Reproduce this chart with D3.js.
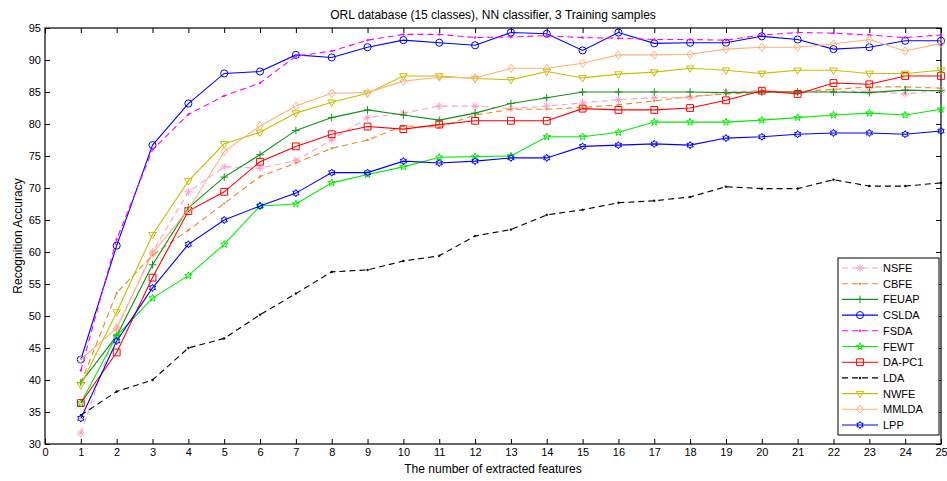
<!DOCTYPE html>
<html>
<head>
<meta charset="utf-8">
<script src="https://cdn.jsdelivr.net/npm/d3@7"></script>
<style>
  body { margin: 0; background: #fff; }
  text { font-family: "Liberation Sans", Arial, sans-serif; }
</style>
</head>
<body>
<div id="chart"></div>
<script>
// Number of extracted features (x)
const features = d3.range(1, 26);

// Recognition accuracy per method
const nsfe  = [31.7, 48.0, 60.0, 69.4, 73.3, 73.1, 74.3, 77.5, 81.0, 81.7, 82.8, 82.8, 82.4, 82.8, 83.3, 83.8, 84.1, 84.1, 85.0, 85.2, 85.0, 85.1, 85.1, 84.7, 85.3];
const cbfe  = [39.5, 53.6, 59.5, 63.4, 67.6, 71.8, 73.9, 76.2, 77.5, 79.7, 79.5, 81.4, 82.3, 82.3, 82.6, 83.0, 83.6, 84.3, 84.7, 84.9, 85.1, 85.4, 85.8, 85.8, 85.6];
const feuap = [39.6, 46.9, 58.0, 66.9, 71.7, 75.2, 79.0, 81.0, 82.2, 81.4, 80.6, 81.7, 83.2, 84.1, 85.0, 85.0, 85.0, 85.0, 84.9, 85.0, 85.0, 85.0, 84.9, 85.3, 85.2];
const cslda = [43.2, 61.0, 76.7, 83.2, 87.9, 88.2, 90.8, 90.4, 92.0, 93.1, 92.7, 92.3, 94.3, 94.1, 91.5, 94.3, 92.6, 92.7, 92.7, 93.7, 93.2, 91.7, 92.0, 93.0, 93.0];
const fsda  = [41.5, 62.0, 76.0, 81.5, 84.4, 86.4, 90.6, 91.4, 93.1, 94.0, 94.0, 93.5, 93.6, 93.8, 93.5, 93.4, 93.2, 93.2, 93.1, 93.9, 94.3, 94.2, 93.9, 93.5, 93.9];
const fewt  = [36.4, 46.9, 52.8, 56.3, 61.2, 67.2, 67.5, 70.8, 72.1, 73.3, 74.8, 74.9, 75.0, 78.0, 78.0, 78.7, 80.3, 80.3, 80.3, 80.6, 81.0, 81.4, 81.7, 81.4, 82.3];
const dapc1 = [36.4, 44.3, 56.0, 66.4, 69.4, 74.1, 76.5, 78.4, 79.6, 79.2, 79.9, 80.5, 80.5, 80.5, 82.4, 82.2, 82.2, 82.5, 83.7, 85.2, 84.7, 86.4, 86.2, 87.5, 87.5];
const lda   = [34.5, 38.2, 40.0, 45.0, 46.5, 50.2, 53.5, 56.9, 57.2, 58.6, 59.4, 62.5, 63.5, 65.8, 66.6, 67.7, 68.0, 68.6, 70.2, 69.9, 69.9, 71.3, 70.3, 70.3, 70.8];
const nwfe  = [39.2, 50.6, 62.7, 71.1, 76.9, 78.7, 81.7, 83.4, 84.8, 87.5, 87.5, 87.1, 86.9, 88.2, 87.2, 87.8, 88.1, 88.7, 88.4, 87.9, 88.4, 88.4, 87.9, 87.9, 88.4];
const mmlda = [43.2, 48.1, 59.8, 66.6, 75.7, 79.7, 82.8, 84.8, 84.9, 86.7, 87.3, 87.2, 88.7, 88.7, 89.5, 90.8, 90.8, 90.9, 91.7, 92.0, 92.0, 92.5, 93.2, 91.4, 92.6];
const lpp   = [34.0, 46.1, 54.4, 61.2, 65.0, 67.2, 69.2, 72.4, 72.4, 74.2, 73.9, 74.2, 74.7, 74.7, 76.5, 76.7, 76.9, 76.7, 77.8, 78.0, 78.4, 78.6, 78.6, 78.4, 78.9];

// Axis ticks
const xTicks = d3.range(0, 26);
const yTicks = d3.range(30, 96, 5);

// Series styling (drawn in legend order)
const series = [
  { name: 'NSFE',   values: nsfe,  color: '#ff9ec9', dash: '6,4', marker: 'asterisk' },
  { name: 'CBFE',   values: cbfe,  color: '#e8892a', dash: '6,4', marker: 'dot' },
  { name: 'FEUAP',  values: feuap, color: '#12901a', dash: null,  marker: 'plus' },
  { name: 'CSLDA',  values: cslda, color: '#0000ff', dash: null,  marker: 'circle' },
  { name: 'FSDA',   values: fsda,  color: '#ff00ff', dash: '6,4', marker: 'dot' },
  { name: 'FEWT',   values: fewt,  color: '#00ee00', dash: null,  marker: 'pentagram' },
  { name: 'DA-PC1', values: dapc1, color: '#ff0000', dash: null,  marker: 'square' },
  { name: 'LDA',    values: lda,   color: '#000000', dash: '6,4', marker: 'dot' },
  { name: 'NWFE',   values: nwfe,  color: '#c4c000', dash: null,  marker: 'triangleDown' },
  { name: 'MMLDA',  values: mmlda, color: '#ffb27a', dash: null,  marker: 'diamond' },
  { name: 'LPP',    values: lpp,   color: '#0000ff', dash: null,  marker: 'hexagram' }
];

// Chart dimensions and margins
const totalW = 947, totalH = 481;
const margin = { top: 28, right: 6, bottom: 37, left: 45 };
const width = totalW - margin.left - margin.right;
const height = totalH - margin.top - margin.bottom;

// Star path helper (pentagram / hexagram)
function starPath(points, outer, inner) {
  const pts = [];
  for (let i = 0; i < points * 2; i++) {
    const r = i % 2 === 0 ? outer : inner;
    const a = -Math.PI / 2 + i * Math.PI / points;
    pts.push([r * Math.cos(a), r * Math.sin(a)]);
  }
  return 'M' + pts.map(p => p[0].toFixed(2) + ',' + p[1].toFixed(2)).join('L') + 'Z';
}

const markerPaths = {
  circle: d3.symbol(d3.symbolCircle, 40)(),
  square: 'M-3.4,-3.4H3.4V3.4H-3.4Z',
  triangleDown: 'M-3.8,-2.3H3.8L0,4.1Z',
  diamond: 'M0,-4.2L3.2,0L0,4.2L-3.2,0Z',
  plus: 'M-3.8,0H3.8M0,-3.8V3.8',
  asterisk: 'M-3.8,0H3.8M0,-3.8V3.8M-2.7,-2.7L2.7,2.7M-2.7,2.7L2.7,-2.7',
  pentagram: starPath(5, 3.8, 1.6),
  hexagram: starPath(6, 3.6, 2.1),
  dot: d3.symbol(d3.symbolCircle, 3)()
};

function drawMarker(g, s, cx, cy) {
  g.append('path')
    .attr('transform', `translate(${cx},${cy})`)
    .attr('d', markerPaths[s.marker])
    .attr('fill', s.marker === 'dot' ? s.color : 'none')
    .attr('stroke', s.color)
    .attr('stroke-width', s.marker === 'dot' ? 0.5 : 1);
}

const svg = d3.select('#chart')
  .append('svg')
  .attr('width', totalW)
  .attr('height', totalH);

const g = svg.append('g')
  .attr('transform', `translate(${margin.left},${margin.top})`);

// Scales
const x = d3.scaleLinear().domain([0, 25]).range([0, width]);
const y = d3.scaleLinear().domain([30, 95]).range([height, 0]);

// Axes (MATLAB style inward ticks on all four sides)
g.append('g')
  .attr('transform', `translate(0,${height})`)
  .call(d3.axisBottom(x).tickValues(xTicks).tickSizeInner(-5).tickSizeOuter(0).tickPadding(4));
g.append('g')
  .call(d3.axisTop(x).tickValues(xTicks).tickSizeInner(-5).tickSizeOuter(0).tickFormat(''));
g.append('g')
  .call(d3.axisLeft(y).tickValues(yTicks).tickSizeInner(-5).tickSizeOuter(0).tickPadding(4));
g.append('g')
  .attr('transform', `translate(${width},0)`)
  .call(d3.axisRight(y).tickValues(yTicks).tickSizeInner(-5).tickSizeOuter(0).tickFormat(''));

g.selectAll('.domain').remove();
g.selectAll('.tick line').attr('stroke', '#000');
g.selectAll('.tick text').attr('font-size', 11).attr('fill', '#000')
  .style('font-family', '"Liberation Sans", Arial, sans-serif');

// Frame
g.append('rect')
  .attr('width', width)
  .attr('height', height)
  .attr('fill', 'none')
  .attr('stroke', '#000')
  .attr('stroke-width', 1.2);

// Lines and markers
const line = d3.line()
  .x((d, i) => x(features[i]))
  .y(d => y(d));

series.forEach(s => {
  g.append('path')
    .datum(s.values)
    .attr('fill', 'none')
    .attr('stroke', s.color)
    .attr('stroke-width', 1.1)
    .attr('stroke-dasharray', s.dash)
    .attr('d', line);
  const mg = g.append('g');
  s.values.forEach((v, i) => drawMarker(mg, s, x(features[i]), y(v)));
});

// Title and axis labels
svg.append('text')
  .attr('x', margin.left + width / 2)
  .attr('y', 19)
  .attr('text-anchor', 'middle')
  .attr('font-size', 12)
  .text('ORL database (15 classes), NN classifier, 3 Training samples');

svg.append('text')
  .attr('x', margin.left + width / 2)
  .attr('y', 473)
  .attr('text-anchor', 'middle')
  .attr('font-size', 12)
  .text('The number of extracted features');

svg.append('text')
  .attr('transform', `translate(22,${margin.top + height / 2}) rotate(-90)`)
  .attr('text-anchor', 'middle')
  .attr('font-size', 12)
  .text('Recognition Accuracy');

// Legend
const legend = g.append('g')
  .attr('transform', `translate(${width - 103},${230})`);

legend.append('rect')
  .attr('width', 101)
  .attr('height', 177)
  .attr('fill', '#fff')
  .attr('stroke', '#000')
  .attr('stroke-width', 1);

series.forEach((s, i) => {
  const item = legend.append('g')
    .attr('transform', `translate(0,${10 + i * 15.7})`);
  item.append('line')
    .attr('x1', 4).attr('x2', 40)
    .attr('stroke', s.color)
    .attr('stroke-width', 1.1)
    .attr('stroke-dasharray', s.dash);
  drawMarker(item, s, 22, 0);
  item.append('text')
    .attr('x', 45)
    .attr('y', 4)
    .attr('font-size', 11)
    .text(s.name);
});
</script>
</body>
</html>
